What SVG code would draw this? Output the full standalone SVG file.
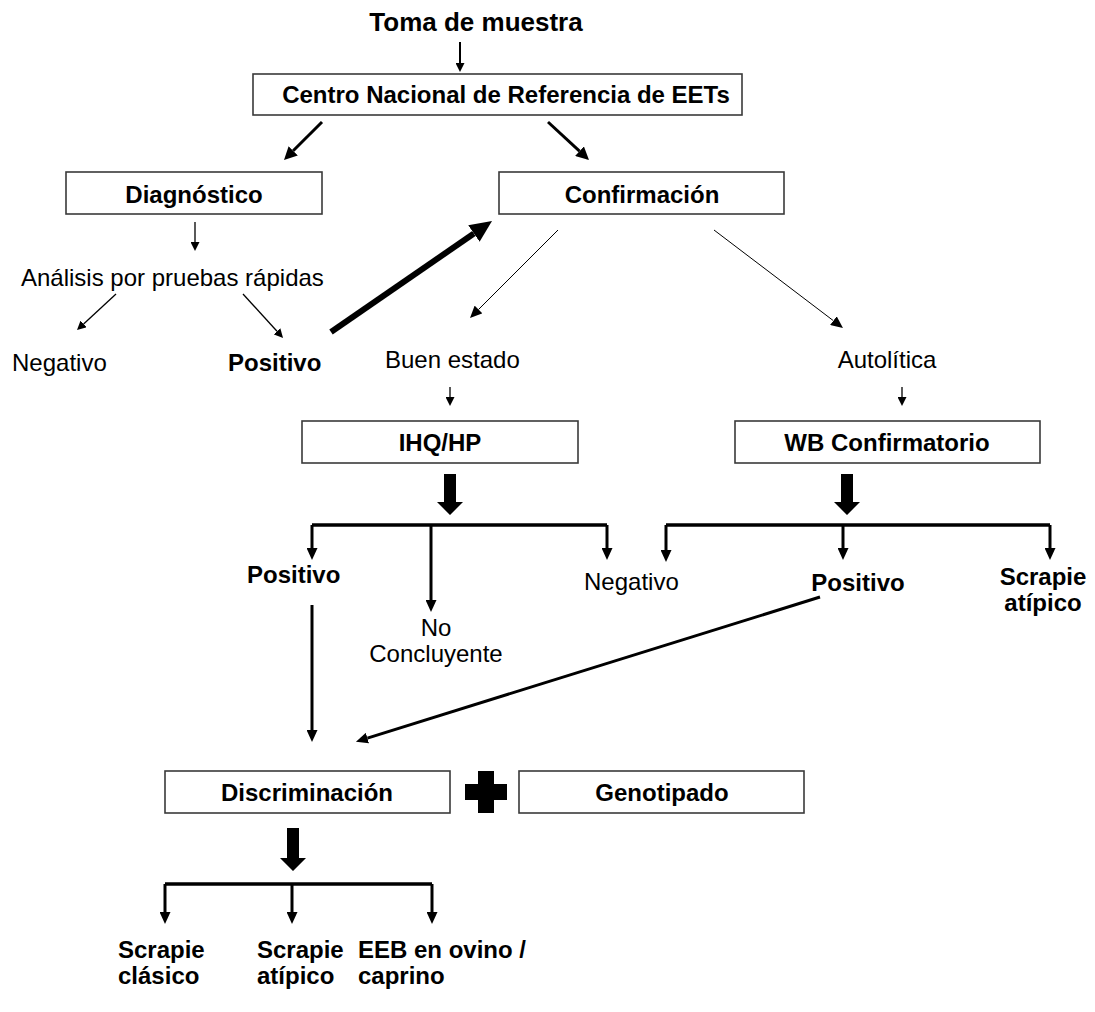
<svg xmlns="http://www.w3.org/2000/svg" width="1095" height="1012" viewBox="0 0 1095 1012">
<style>
text{font-family:"Liberation Sans",Arial,sans-serif;font-size:24px;fill:#000}
.b{font-weight:bold}
.m{text-anchor:middle}
.box{fill:#fff;stroke:#3a3a3a;stroke-width:1.6}
.thin{stroke:#000;stroke-width:1.3;fill:none}
.hair{stroke:#000;stroke-width:1;fill:none}
.med{stroke:#000;stroke-width:3;fill:none}
.thick{stroke:#000;stroke-width:6;fill:none}
.blk{fill:#000}
</style>
<defs>
<marker id="aS" markerUnits="userSpaceOnUse" markerWidth="10" markerHeight="9" refX="0" refY="4.5" orient="auto"><path d="M0,0 L9,4.5 L0,9 Z" fill="#000"/></marker>
<marker id="aH" markerUnits="userSpaceOnUse" markerWidth="13" markerHeight="11" refX="0" refY="5.5" orient="auto"><path d="M0,0 L12,5.5 L0,11 Z" fill="#000"/></marker>
<marker id="aM" markerUnits="userSpaceOnUse" markerWidth="14" markerHeight="13" refX="0" refY="6.5" orient="auto"><path d="M0,0 L13,6.5 L0,13 Z" fill="#000"/></marker>
<marker id="aD" markerUnits="userSpaceOnUse" markerWidth="13" markerHeight="11" refX="0" refY="5.5" orient="auto"><path d="M0,0 L12,5.5 L0,11 Z" fill="#000"/></marker>
<marker id="aB" markerUnits="userSpaceOnUse" markerWidth="23" markerHeight="20" refX="0" refY="10" orient="auto"><path d="M0,0 L22,10 L0,20 Z" fill="#000"/></marker>
</defs>

<g id="title"><text class="b m" x="476" y="31" style="font-size:26px">Toma de muestra</text></g>

<g id="centro"><rect class="box" x="253" y="74" width="489" height="41"/><text class="b m" x="506" y="103">Centro Nacional de Referencia de EETs</text></g>
<g id="diagnostico"><rect class="box" x="66" y="172" width="256" height="42"/><text class="b m" x="194" y="203">Diagnóstico</text></g>
<g id="confirmacion"><rect class="box" x="499" y="172" width="285" height="42"/><text class="b m" x="642" y="203">Confirmación</text></g>
<g id="analisis"><text x="21" y="286">Análisis por pruebas rápidas</text></g>
<g id="negativo1"><text x="12" y="371">Negativo</text></g>
<g id="positivo1"><text class="b" x="228" y="371">Positivo</text></g>
<g id="buen-estado"><text x="385" y="368">Buen estado</text></g>
<g id="autolitica"><text class="m" x="887" y="368">Autolítica</text></g>
<g id="ihq"><rect class="box" x="302" y="421" width="276" height="42"/><text class="b m" x="440" y="451">IHQ/HP</text></g>
<g id="wb"><rect class="box" x="735" y="421" width="305" height="42"/><text class="b m" x="887" y="451">WB Confirmatorio</text></g>
<g id="positivo-ihq"><text class="b" x="247" y="583">Positivo</text></g>
<g id="no-concluyente"><text class="m" x="436" y="636">No</text><text class="m" x="436" y="662">Concluyente</text></g>
<g id="negativo2"><text x="584" y="590">Negativo</text></g>
<g id="positivo-wb"><text class="b m" x="858" y="591">Positivo</text></g>
<g id="scrapie-atipico-wb"><text class="b m" x="1043" y="585">Scrapie</text><text class="b m" x="1043" y="611">atípico</text></g>
<g id="discriminacion"><rect class="box" x="165" y="771" width="285" height="42"/><text class="b m" x="307" y="801">Discriminación</text></g>
<g id="plus"><path class="blk" d="M478,771 H494 V784 H507 V800 H494 V813 H478 V800 H465 V784 H478 Z"/></g>
<g id="genotipado"><rect class="box" x="519" y="771" width="285" height="42"/><text class="b m" x="662" y="801">Genotipado</text></g>
<g id="scrapie-clasico"><text class="b" x="118" y="958">Scrapie</text><text class="b" x="118" y="984">clásico</text></g>
<g id="scrapie-atipico"><text class="b" x="257" y="958">Scrapie</text><text class="b" x="257" y="984">atípico</text></g>
<g id="eeb"><text class="b" x="358" y="958">EEB en ovino /</text><text class="b" x="358" y="984">caprino</text></g>

<g id="connectors">
<line class="med" style="stroke-width:2" x1="460" y1="42" x2="460" y2="63" marker-end="url(#aS)"/>
<line class="med" x1="322" y1="122" x2="293.2" y2="150.8" marker-end="url(#aM)"/>
<line class="med" x1="548" y1="122" x2="579.5" y2="151.2" marker-end="url(#aM)"/>
<line class="thin" x1="195" y1="222" x2="195" y2="242" marker-end="url(#aS)"/>
<line class="thin" x1="116" y1="294" x2="83.6" y2="323.9" marker-end="url(#aS)"/>
<line class="thin" x1="243" y1="294" x2="277" y2="331.3" marker-end="url(#aS)"/>
<line class="thick" x1="331" y1="332" x2="473.9" y2="233.5" marker-end="url(#aB)"/>
<line class="hair" x1="558" y1="230" x2="478.5" y2="309.5" marker-end="url(#aH)"/>
<line class="hair" x1="714" y1="230" x2="833.4" y2="320.7" marker-end="url(#aH)"/>
<line class="thin" x1="450" y1="387" x2="450" y2="397" marker-end="url(#aS)"/>
<line class="thin" x1="902" y1="387" x2="902" y2="397" marker-end="url(#aS)"/>
<path class="blk" d="M444,474 H456 V502 H463 L450,515 L437,502 H444 Z"/>
<path class="blk" d="M841,474 H853 V502 H860 L847,515 L834,502 H841 Z"/>
<path class="med" style="stroke-width:3.5" d="M312,525 H607"/>
<line class="med" x1="312" y1="525" x2="312" y2="548" marker-end="url(#aD)"/>
<line class="med" x1="431" y1="525" x2="431" y2="600" marker-end="url(#aD)"/>
<line class="med" x1="607" y1="525" x2="607" y2="548" marker-end="url(#aD)"/>
<path class="med" style="stroke-width:3.5" d="M666,525 H1050"/>
<line class="med" x1="666" y1="525" x2="666" y2="550" marker-end="url(#aD)"/>
<line class="med" x1="843" y1="525" x2="843" y2="548" marker-end="url(#aD)"/>
<line class="med" x1="1050" y1="525" x2="1050" y2="548" marker-end="url(#aD)"/>
<line class="med" x1="312" y1="605" x2="312" y2="730" marker-end="url(#aD)"/>
<line class="med" x1="820" y1="597" x2="367.4" y2="738.1" marker-end="url(#aD)"/>
<path class="blk" d="M287,828 H299 V858 H306 L293,871 L280,858 H287 Z"/>
<path class="med" style="stroke-width:3.5" d="M165,884 H432"/>
<line class="med" x1="165" y1="884" x2="165" y2="912" marker-end="url(#aD)"/>
<line class="med" x1="292" y1="884" x2="292" y2="912" marker-end="url(#aD)"/>
<line class="med" x1="432" y1="884" x2="432" y2="912" marker-end="url(#aD)"/>
</g>
</svg>
